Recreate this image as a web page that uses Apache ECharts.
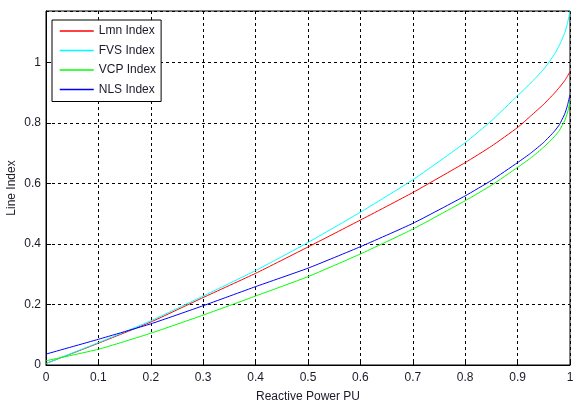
<!DOCTYPE html>
<html>
<head>
<meta charset="utf-8">
<script src="https://cdn.jsdelivr.net/npm/echarts@6/dist/echarts.min.js"></script>
<style>
    html, body { margin: 0; padding: 0; background: #fff; }
    #chart { width: 574px; height: 406px; }
</style>
</head>
<body>
<div id="chart"></div>
<script>
// 无功功率 (PU)
var qValues = [0, 0.1, 0.2, 0.3, 0.4, 0.5, 0.6, 0.7, 0.8, 0.85, 0.9, 0.925, 0.95, 0.97, 0.98, 0.99, 0.995, 1]
// 各线路指标
var lmnIndex = [0.005, 0.072, 0.142, 0.223, 0.303, 0.39, 0.479, 0.57, 0.669, 0.723, 0.785, 0.823, 0.862, 0.898, 0.918, 0.94, 0.954, 0.97]
var fvsIndex = [0.005, 0.074, 0.146, 0.228, 0.312, 0.405, 0.505, 0.612, 0.735, 0.807, 0.89, 0.932, 0.978, 1.026, 1.058, 1.098, 1.128, 1.17]
var vcpIndex = [0.014, 0.052, 0.105, 0.165, 0.228, 0.292, 0.367, 0.449, 0.543, 0.594, 0.653, 0.684, 0.72, 0.754, 0.776, 0.808, 0.833, 0.87]
var nlsIndex = [0.036, 0.085, 0.136, 0.196, 0.259, 0.32, 0.391, 0.468, 0.559, 0.61, 0.669, 0.7, 0.736, 0.772, 0.795, 0.83, 0.857, 0.893]
var seriesNames = ['Lmn Index', 'FVS Index', 'VCP Index', 'NLS Index']
var seriesColors = ['#ff0000', '#00ffff', '#00ff00', '#0000ff']

function pairs (ys) {
    return qValues.map(function (q, i) { return [q, ys[i]] })
}

var chart = echarts.init(document.getElementById('chart'))
var textColor = '#1a1a2a'
var dashLine = {
    show: true,
    lineStyle: { color: '#000', width: 1, type: [3, 3] }
}
var option = {
    animation: false,
    textStyle: { fontFamily: 'Liberation Sans' },
    grid: {
        left: 46,
        right: 4,
        top: 11,
        bottom: 41,
        containLabel: false,
        outerBoundsMode: 'none',
        show: true,
        borderColor: '#000',
        borderWidth: 1
    },
    legend: {
        orient: 'vertical',
        left: 52,
        top: 20,
        backgroundColor: '#fff',
        borderColor: '#000',
        borderWidth: 1,
        padding: [5, 5, 6, 7],
        itemWidth: 34,
        itemHeight: 14,
        itemGap: 7.5,
        itemStyle: { opacity: 0 },
        lineStyle: { width: 1.5 },
        textStyle: { color: textColor, fontSize: 12, fontFamily: 'Liberation Sans' },
        data: seriesNames
    },
    xAxis: {
        type: 'value',
        min: 0,
        max: 1,
        interval: 0.1,
        name: 'Reactive Power PU',
        nameLocation: 'middle',
        nameGap: 26,
        nameMoveOverlap: false,
        nameTextStyle: { color: textColor, fontSize: 12 },
        axisLine: { show: true, lineStyle: { color: '#000' } },
        axisTick: { show: true, inside: true, length: 5, lineStyle: { color: '#000' } },
        axisLabel: { color: textColor, fontSize: 12, margin: 7 },
        splitLine: dashLine
    },
    yAxis: {
        type: 'value',
        min: 0,
        max: 1.17,
        interval: 0.2,
        name: 'Line Index',
        nameLocation: 'middle',
        nameRotate: 90,
        nameGap: 28,
        nameMoveOverlap: false,
        nameTextStyle: { color: textColor, fontSize: 12 },
        axisLine: { show: true, lineStyle: { color: '#000' } },
        axisTick: { show: true, inside: true, length: 5, lineStyle: { color: '#000' } },
        axisLabel: { color: textColor, fontSize: 12, margin: 5, showMaxLabel: false },
        splitLine: dashLine
    },
    series: [lmnIndex, fvsIndex, vcpIndex, nlsIndex].map(function (ys, i) {
        return {
            name: seriesNames[i],
            type: 'line',
            smooth: 0.15,
            symbol: 'none',
            color: seriesColors[i],
            lineStyle: { width: 1, color: seriesColors[i] },
            data: pairs(ys)
        }
    })
}
chart.setOption(option)
</script>
</body>
</html>
